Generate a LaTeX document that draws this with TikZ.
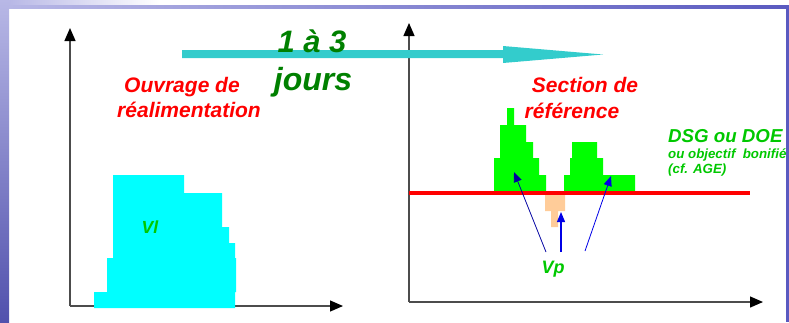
\documentclass[tikz,border=0pt]{standalone}
\usepackage{fontspec}
\setmainfont{Liberation Sans}
\usetikzlibrary{arrows.meta,positioning}

\definecolor{fond}{HTML}{5A5AC0}
\definecolor{fondclair}{HTML}{B8B8E6}
\definecolor{debit}{HTML}{00FFFF}
\definecolor{surplus}{HTML}{00FF00}
\definecolor{deficit}{HTML}{FFCC99}
\definecolor{fleche}{HTML}{33CCCC}
\definecolor{vert}{HTML}{00C800}
\definecolor{vertfonce}{HTML}{008000}
\definecolor{bleu}{HTML}{0000E6}

\begin{document}
\begin{tikzpicture}[x=1pt, y=-1pt, >={Triangle[length=13pt,width=11pt,color=black]}]
        \tikzstyle{axe}=[draw=black!70, line width=1.3pt, ->]
        \tikzstyle{txt}=[inner sep=0pt, font=\bfseries\itshape]
        \tikzstyle{vp}=[draw=bleu, line width=0.8pt, -{Triangle[length=10pt,width=8pt]}]
        \useasboundingbox (0,0) rectangle (789,322);
        % fond
        \shade[left color=fondclair, right color=fond] (0,0) rectangle (789,8);
        \shade[left color=fondclair, right color=white] (9,0) rectangle (160,4.5);
        \fill[white] (160,0) rectangle (789,4.5);
        \shade[top color=fondclair, bottom color=fond!90!black] (0,0) rectangle (9,322);
        \fill[fond] (786,8) rectangle (789,322);

        % axes
        \coordinate (O1) at (70,306);
        \coordinate (Y1) at (70,28);
        \coordinate (X1) at (343,306);
        \coordinate (O2) at (409,302);
        \coordinate (Y2) at (409,23);
        \coordinate (X2) at (763,302);
        \draw[axe] (O1) -- (Y1);
        \draw[axe] (O1) -- (X1);
        \draw[axe] (O2) -- (Y2);
        \draw[axe] (O2) -- (X2);

        % ouvrage
        \fill[debit] (94,308) -- (94,292) -- (107,292) -- (107,258) -- (113,258)
            -- (113,175) -- (184,175) -- (184,193) -- (222,193) -- (222,227)
            -- (229,227) -- (229,243) -- (235,243) -- (235,258) -- (236,258)
            -- (236,292) -- (235,292) -- (235,308) -- cycle;

        % section
        \fill[surplus] (494,191) -- (494,158) -- (500,158) -- (500,125) -- (507,125)
            -- (507,108) -- (514,108) -- (514,125) -- (526,125) -- (526,142)
            -- (533,142) -- (533,158) -- (539,158) -- (539,175) -- (546,175)
            -- (546,191) -- cycle;
        \fill[surplus] (564,191) -- (564,175) -- (570,175) -- (570,158) -- (572,158)
            -- (572,142) -- (597,142) -- (597,158) -- (603,158) -- (603,175)
            -- (635,175) -- (635,191) -- cycle;
        \fill[deficit] (545,195) -- (565,195) -- (565,211) -- (558,211) -- (558,227)
            -- (551,227) -- (551,211) -- (545,211) -- cycle;
        \coordinate (R1) at (409,193);
        \coordinate (R2) at (750,193);
        \draw[red, line width=4.5pt] (R1) -- (R2);

        % delai
        \fill[fleche] (182,50) -- (503,50) -- (503,46) -- (603,54.5) -- (503,63)
            -- (503,58) -- (182,58) -- cycle;

        % textes
        \node[txt, anchor=base, text=vertfonce, font=\bfseries\itshape\fontsize{31}{34}\selectfont] (Delai)  at (312,52)  {1 à 3};
        \node[txt, anchor=base, text=vertfonce, font=\bfseries\itshape\fontsize{32}{34}\selectfont] (Jours)  at (313,90)  {jours};
        \node[txt, anchor=base, text=red, font=\bfseries\itshape\fontsize{21}{24}\selectfont] (Ouvr)   at (182,92)  {Ouvrage de};
        \node[txt, anchor=base, text=red, font=\bfseries\itshape\fontsize{21}{24}\selectfont] (Realim) at (189,117) {réalimentation};
        \node[txt, anchor=base, text=red, font=\bfseries\itshape\fontsize{21}{24}\selectfont] (Sect)   at (585,92)  {Section de};
        \node[txt, anchor=base, text=red, font=\bfseries\itshape\fontsize{21}{24}\selectfont] (Ref)    at (572,118) {référence};
        \node[txt, anchor=base, text=vert, font=\bfseries\itshape\fontsize{17.5}{20}\selectfont] (Vl)  at (150,233) {Vl};
        \node[txt, anchor=base, text=vert, font=\bfseries\itshape\fontsize{18}{20}\selectfont]   (Vp)  at (553,273) {Vp};
        \node[txt, anchor=base west, text=vert, font=\bfseries\itshape\fontsize{18.7}{20}\selectfont] (DSG) at (668,142) {DSG ou DOE};
        \node[txt, anchor=base west, text=vert, font=\bfseries\itshape\fontsize{13.3}{15}\selectfont] (Obj) at (668,158) {ou objectif \ bonifié};
        \node[txt, anchor=base west, text=vert, font=\bfseries\itshape\fontsize{13.3}{15}\selectfont] (AGE) at (668,173) {(cf. AGE)};

        % fleches Vp
        \coordinate (P1) at (546,252);
        \coordinate (P2) at (561,252);
        \coordinate (P3) at (585,251);
        \coordinate (Q1) at (514,172);
        \coordinate (Q2) at (561,212);
        \coordinate (Q3) at (611,176);
        \draw[vp, draw=bleu!70!black] (P1) -- (Q1);
        \draw[vp, line width=1.2pt] (P2) -- (Q2);
        \draw[vp] (P3) -- (Q3);
\end{tikzpicture}
\end{document}
